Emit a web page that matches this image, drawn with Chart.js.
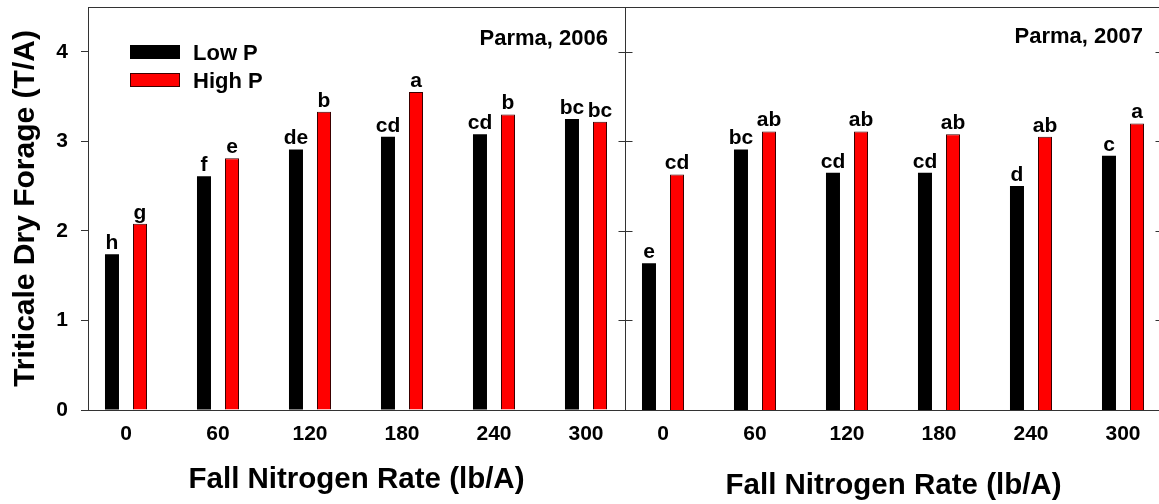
<!DOCTYPE html>
<html><head><meta charset="utf-8">
<script src="https://cdn.jsdelivr.net/npm/chart.js@4/dist/chart.umd.min.js"></script>
<style>
html,body{margin:0;padding:0;background:#fff;width:1159px;height:504px;overflow:hidden;position:relative;}
#wrapA{position:absolute;left:0;top:0;width:660px;height:504px;}
#wrapB{position:absolute;left:600px;top:0;width:600px;height:504px;}
canvas{display:block;}
</style></head><body>
<div id="wrapA"><canvas id="cA" width="660" height="504"></canvas></div>
<div id="wrapB"><canvas id="cB" width="600" height="504"></canvas></div>
<script>
// ---- data ----
const nRates = ['0', '60', '120', '180', '240', '300'];
const lowP2006  = [1.74, 2.61, 2.91, 3.05, 3.08, 3.25];
const highP2006 = [2.08, 2.81, 3.33, 3.55, 3.30, 3.22];
const lowP2007  = [1.64, 2.91, 2.65, 2.65, 2.50, 2.84];
const highP2007 = [2.63, 3.11, 3.11, 3.08, 3.05, 3.20];
const lettersLow2006  = ['h', 'f', 'de', 'cd', 'cd', 'bc'];
const lettersHigh2006 = ['g', 'e', 'b', 'a', 'b', 'bc'];
const lettersLow2007  = ['e', 'bc', 'cd', 'cd', 'd', 'c'];
const lettersHigh2007 = ['cd', 'ab', 'ab', 'ab', 'ab', 'a'];
const seriesNames = ['Low P', 'High P'];
const yTicks = [0, 1, 2, 3, 4];
const panelTitles = ['Parma, 2006', 'Parma, 2007'];
const yTitle = 'Triticale Dry Forage (T/A)';
const xTitle = 'Fall Nitrogen Rate (lb/A)';

// ---- style ----
const FONT = "'Liberation Sans', Arial, Helvetica, sans-serif";
Chart.defaults.font.family = FONT;
Chart.defaults.color = '#000';
const AXIS = '#333';
const LOW_COLOR = '#000000';
const HIGH_COLOR = '#ff0000';
const HIGH_BORDER = '#3a0000';
const X_MIN = -0.413, X_MAX = 5.424;

function pts(arr) { return arr.map((v, i) => ({ x: i, y: v })); }

function panelPlugin(cfg) {
  return {
    id: 'panel' + cfg.key,
    afterDatasetsDraw(chart) {
      const { ctx, chartArea: a, scales: { y } } = chart;
      ctx.save();
      ctx.strokeStyle = AXIS;
      ctx.lineWidth = 1;
      ctx.beginPath();
      const top = Math.round(a.top) + 0.5;
      ctx.moveTo(a.left, top); ctx.lineTo(a.right + 1, top);
      const rx = Math.round(a.right) + 0.5;
      ctx.moveTo(rx, a.top); ctx.lineTo(rx, a.bottom);
      const lx = Math.round(a.left) + 0.5;
      if (cfg.leftLine) { ctx.moveTo(lx, a.top); ctx.lineTo(lx, a.bottom); }
      yTicks.forEach(v => {
        if (v === 0) return;
        const py = Math.round(y.getPixelForValue(v)) + 0.5;
        ctx.moveTo(rx - 7, py); ctx.lineTo(rx, py);
        if (cfg.leftLine) { ctx.moveTo(lx, py); ctx.lineTo(lx + 7, py); }
      });
      ctx.stroke();

      // letters over bars
      ctx.fillStyle = '#000';
      ctx.font = 'bold 21px ' + FONT;
      ctx.textAlign = 'center';
      ctx.textBaseline = 'alphabetic';
      [cfg.lettersLow, cfg.lettersHigh].forEach((letters, d) => {
        const meta = chart.getDatasetMeta(d);
        meta.data.forEach((el, i) => {
          ctx.fillText(letters[i], el.x, el.y - 5);
        });
      });

      // panel title
      ctx.font = 'bold 22px ' + FONT;
      ctx.textAlign = 'right';
      ctx.fillText(cfg.title, a.right - cfg.titleRight, a.top + cfg.titleBase);

      // legend
      if (cfg.legend) {
        chart.data.datasets.forEach((ds, i) => {
          const bx = a.left + 42, by = a.top + 38 + i * 28;
          ctx.fillStyle = ds.backgroundColor;
          ctx.fillRect(bx, by, 50, 14);
          if (ds.borderWidth) {
            ctx.strokeStyle = ds.borderColor;
            ctx.strokeRect(bx + 0.5, by + 0.5, 49, 13);
          }
          ctx.fillStyle = '#000';
          ctx.textAlign = 'left';
          ctx.font = 'bold 22px ' + FONT;
          ctx.fillText(ds.label, a.left + 105, by + 15);
        });
      }
      ctx.restore();
    }
  };
}

function makeChart(id, low, high, cfg) {
  return new Chart(document.getElementById(id), {
    type: 'bar',
    data: {
      datasets: [
        { label: seriesNames[0], data: pts(low), backgroundColor: LOW_COLOR, borderWidth: 0,
          categoryPercentage: 0.609, barPercentage: 0.5 },
        { label: seriesNames[1], data: pts(high), backgroundColor: HIGH_COLOR, borderColor: HIGH_BORDER,
          borderWidth: 1, categoryPercentage: 0.609, barPercentage: 0.5 }
      ]
    },
    options: {
      responsive: false,
      animation: false,
      devicePixelRatio: 1,
      layout: { padding: cfg.padding },
      plugins: { legend: { display: false }, tooltip: { enabled: false } },
      scales: {
        x: {
          type: 'linear', min: X_MIN, max: X_MAX, bounds: 'data', offset: false,
          grid: { display: true, drawOnChartArea: false, drawTicks: false, offset: false },
          border: { display: true, color: AXIS, width: 1 },
          ticks: { font: { size: 21, weight: 'bold' }, color: '#000', padding: 12, autoSkip: false, maxRotation: 0,
                   callback: v => (nRates[v] !== undefined ? nRates[v] : '') },
          afterBuildTicks: s => { s.ticks = nRates.map((_, i) => ({ value: i })); },
          afterFit: s => { s.height = 94; s.paddingLeft = 0; s.paddingRight = 0; },
          title: { display: true, text: xTitle, color: '#000', font: { size: 29.5, weight: 'bold' },
                   padding: { top: 0, bottom: cfg.xTitlePad } }
        },
        y: {
          display: cfg.showY, min: 0, max: 4.5, bounds: 'data',
          grid: { drawOnChartArea: false, drawTicks: true, tickLength: 7, color: AXIS },
          border: { display: true, color: AXIS, width: 1 },
          ticks: { font: { size: 21, weight: 'bold' }, color: '#000', padding: 13 },
          afterBuildTicks: s => { s.ticks = yTicks.map(v => ({ value: v })); },
          afterFit: s => { s.width = cfg.showY ? 88 : 0; s.paddingTop = 0; s.paddingBottom = 0; },
          title: { display: true, text: yTitle, color: '#000', font: { size: 30, weight: 'bold' },
                   padding: { top: 7.3, bottom: 0 } }
        }
      }
    },
    plugins: [panelPlugin(cfg)]
  });
}

makeChart('cA', lowP2006, highP2006, {
  key: 'A', showY: true, padding: { left: 0, right: 35, top: 7, bottom: 0 }, xTitlePad: 6.3,
  lettersLow: lettersLow2006, lettersHigh: lettersHigh2006, title: panelTitles[0],
  titleRight: 17, titleBase: 38, legend: true, leftLine: false
});
makeChart('cB', lowP2007, highP2007, {
  key: 'B', showY: false, padding: { left: 25, right: 38, top: 7, bottom: 0 }, xTitlePad: 0,
  lettersLow: lettersLow2007, lettersHigh: lettersHigh2007, title: panelTitles[1],
  titleRight: 19, titleBase: 36, legend: false, leftLine: true
});
</script>
</body></html>
